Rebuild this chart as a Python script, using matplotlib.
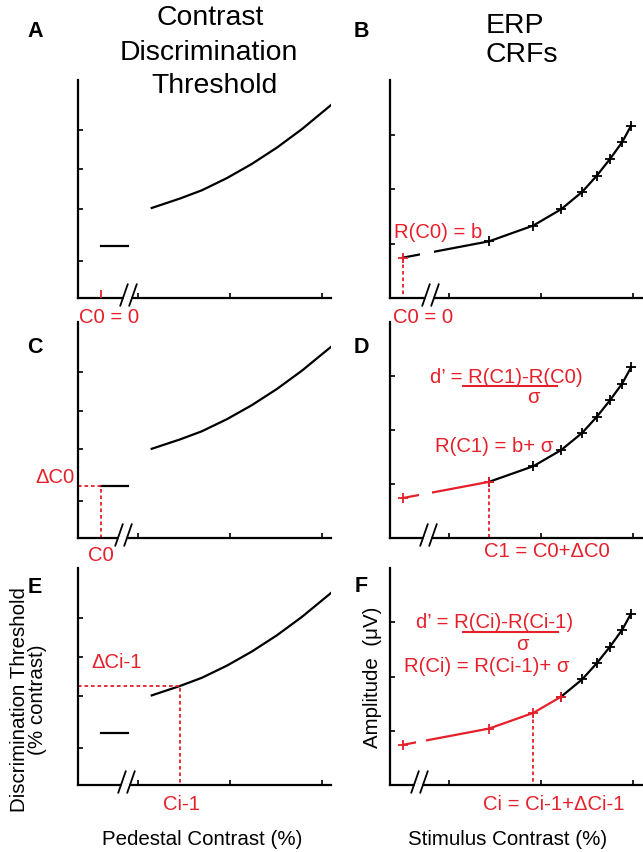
import numpy as np
import matplotlib
matplotlib.use('Agg')
import matplotlib.pyplot as plt
from matplotlib.path import Path
from matplotlib.lines import Line2D
from matplotlib.ticker import NullLocator, FixedLocator

plt.rcParams['font.family'] = ['Liberation Sans', 'DejaVu Sans']

# ---------------- data ----------------
# contrast discrimination threshold (TvC) vs pedestal contrast (%)
pedestal_contrast = [1.42, 2.86, 4.96, 9.28, 17.3, 32.4, 60.6, 125.0]
threshold = [4.13, 4.56, 4.94, 5.50, 6.15, 6.90, 7.75, 8.85]
zero_pedestal_span = [0.40, 0.78]          # short segment drawn for the 0% pedestal
zero_pedestal_threshold = 2.4
c0_pedestal = 0.40                         # where C0 = 0 sits left of the axis break
ci1_pedestal = 2.86
ci1_threshold = 4.56

# ERP contrast response function
crf_contrast = [0.31, 2.7, 8.2, 16.5, 28.0, 40.0, 56.0, 76.0, 95.0]
crf_amplitude = [0.74, 1.04, 1.33, 1.63, 1.95, 2.24, 2.55, 2.86, 3.16]

threshold_yticks = [1.7, 4.1, 5.9, 7.7]
amplitude_yticks = [1, 2, 3]
contrast_xticks = [1, 10, 100]

# ---------------- style ----------------
RED = '#e5202b'
W, H = 643, 853
fig = plt.figure(figsize=(W / 100, H / 100), dpi=100)

def ax_at(l, t, r, b):
    return fig.add_axes([l / W, 1 - b / H, (r - l) / W, (b - t) / H])

def ftext(px, py, s, **kw):
    fig.text(px / W, 1 - py / H, s, **kw)

def style(ax, ylim, yticks):
    ax.set_xscale('log')
    ax.set_xlim(0.225, 125)
    ax.set_ylim(*ylim)
    ax.xaxis.set_major_locator(FixedLocator(contrast_xticks))
    ax.xaxis.set_minor_locator(NullLocator())
    ax.yaxis.set_major_locator(FixedLocator(yticks))
    ax.yaxis.set_minor_locator(NullLocator())
    ax.set_xticklabels([])
    ax.set_yticklabels([])
    for s in ('top', 'right'):
        ax.spines[s].set_visible(False)
    for s in ('left', 'bottom'):
        ax.spines[s].set_linewidth(1.6)
    ax.tick_params(direction='in', length=3.5, width=1.2)
    ax.patch.set_alpha(0)

slash_path = Path([(-8.5, -8), (-0.5, 15), (0.5, -8), (8.5, 15)],
                  [Path.MOVETO, Path.LINETO, Path.MOVETO, Path.LINETO])
gap_path = Path([(-5.3, -2.5), (2.9, -2.5), (2.9, 2.5), (-5.3, 2.5), (-5.3, -2.5)],
                [Path.MOVETO, Path.LINETO, Path.LINETO, Path.LINETO, Path.CLOSEPOLY])

def axis_break(ax, xb):
    ax.plot([xb], [0], marker=gap_path, ms=2 * 5.3 * 0.72, mfc='white', mec='none',
            ls='none', clip_on=False, zorder=4)
    ax.plot([xb], [0], marker=slash_path, ms=2 * 15 * 0.72, mec='black', mew=1.3,
            fillstyle='none', ls='none', clip_on=False, zorder=5)

DOT = dict(color=RED, lw=1.3, ls=(0, (2, 1.6)))
MK = dict(marker='+', ms=7.5, mew=1.3)
LW = 1.6

rows = [(81, 299), (323, 539), (569, 786)]
thr_axes = [ax_at(78, t, 331, b) for t, b in rows]
crf_axes = [ax_at(390, t, 642, b) for t, b in rows]

# ---------------- left column: thresholds ----------------
left_breaks = [0.78, 0.70, 0.74]
for i, ax in enumerate(thr_axes):
    style(ax, (0, 10), threshold_yticks)
    ax.plot(pedestal_contrast, threshold, color='black', lw=LW)
    ax.plot(zero_pedestal_span, [zero_pedestal_threshold] * 2, color='black', lw=LW)
    axis_break(ax, left_breaks[i])

axA, axC, axE = thr_axes
axA.plot([c0_pedestal], [0], marker=2, ms=6, mew=1.3, color=RED, clip_on=False, zorder=5)
x0 = axC.get_xlim()[0]
axC.plot([x0, c0_pedestal, c0_pedestal], [zero_pedestal_threshold] * 2 + [0], **DOT)
axE.plot([x0, ci1_pedestal, ci1_pedestal], [ci1_threshold] * 2 + [0], **DOT)

# ---------------- right column: CRFs ----------------
right_breaks = [0.61, 0.58, 0.46]
right_gaps = [(0.48, 0.67), (0.46, 0.65), (0.43, 0.555)]
red_upto = [0, 1, 3]        # index of last red point per panel
dotted_at = [0, 1, 2]       # index of red dotted vertical per panel
for i, ax in enumerate(crf_axes):
    style(ax, (0, 4), amplitude_yticks)
    k = red_upto[i]
    ax.plot(crf_contrast[max(k, 1):], crf_amplitude[max(k, 1):], color='black', lw=LW, **MK)
    if k == 0:
        ax.plot(crf_contrast[:2], crf_amplitude[:2], color='black', lw=LW)
        ax.plot(crf_contrast[:1], crf_amplitude[:1], ls='none', color=RED, **MK)
    else:
        ax.plot(crf_contrast[:k + 1], crf_amplitude[:k + 1], color=RED, lw=LW, **MK)
    g0, g1 = right_gaps[i]
    ax.axvspan(g0, g1, ymin=0.04, ymax=1, color='white', lw=0, zorder=2.2)
    j = dotted_at[i]
    ax.plot([crf_contrast[j]] * 2, [crf_amplitude[j], 0], **DOT)
    axis_break(ax, right_breaks[i])

# ---------------- text ----------------
TFS = 20.4
ftext(210, 25, 'Contrast', ha='center', va='baseline', fontsize=TFS)
ftext(209, 60, 'Discrimination', ha='center', va='baseline', fontsize=TFS)
ftext(214, 93, 'Threshold', ha='center', va='baseline', fontsize=TFS)
ftext(515, 33, 'ERP', ha='center', va='baseline', fontsize=TFS)
ftext(522, 62, 'CRFs', ha='center', va='baseline', fontsize=TFS)

LFS = 15.5
for lab, x, y in [('A', 35, 37), ('B', 361, 37), ('C', 35, 353),
                  ('D', 361, 353), ('E', 35, 593), ('F', 361, 592)]:
    ftext(x, y, lab, ha='center', va='baseline', fontsize=LFS, fontweight='bold')

AFS = 14.8
ftext(202, 845, 'Pedestal Contrast (%)', ha='center', va='baseline', fontsize=AFS)
ftext(508, 845, 'Stimulus Contrast (%)', ha='center', va='baseline', fontsize=AFS)
fig.text(25 / W, 1 - 700 / H, 'Discrimination Threshold', rotation=90, rotation_mode='anchor',
         ha='center', va='baseline', fontsize=AFS)
fig.text(43 / W, 1 - 700 / H, '(% contrast)', rotation=90, rotation_mode='anchor',
         ha='center', va='baseline', fontsize=AFS)
fig.text(378 / W, 1 - 677 / H, 'Amplitude  (μV)', rotation=90, rotation_mode='anchor',
         ha='center', va='baseline', fontsize=AFS)

RFS = 14.6
R = dict(color=RED, fontsize=RFS, va='baseline')
ftext(109, 323, 'C0 = 0', ha='center', **R)
ftext(423, 323, 'C0 = 0', ha='center', **R)
ftext(438, 238, 'R(C0) = b', ha='center', **R)
ftext(75, 483, 'ΔC0', ha='right', **R)
ftext(101, 561, 'C0', ha='center', **R)
ftext(506, 383, "d’ = R(C1)-R(C0)", ha='center', **R)
ftext(533, 403, 'σ', ha='center', **R)
ftext(494, 452, 'R(C1) = b+ σ', ha='center', **R)
ftext(547, 557, 'C1 = C0+ΔC0', ha='center', **R)
ftext(117, 668, 'ΔCi-1', ha='center', **R)
ftext(181, 810, 'Ci-1', ha='center', **R)
ftext(495, 628, "d’ = R(Ci)-R(Ci-1)", ha='center', **R)
ftext(522, 650, 'σ', ha='center', **R)
ftext(487, 672, 'R(Ci) = R(Ci-1)+ σ', ha='center', **R)
ftext(554, 810, 'Ci = Ci-1+ΔCi-1', ha='center', **R)

for x1, x2, y in [(463, 557, 387), (463, 558, 633)]:
    fig.add_artist(Line2D([x1 / W, x2 / W], [1 - y / H] * 2, color=RED, lw=1.5))

fig.savefig('out.png', dpi=100)
